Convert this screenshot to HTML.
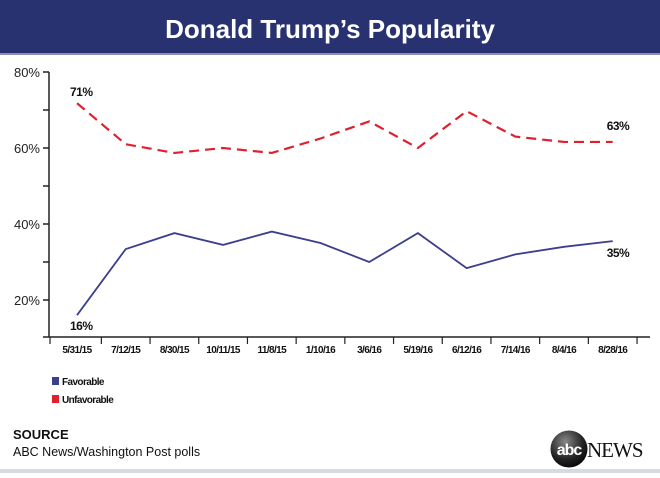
<!DOCTYPE html>
<html><head><meta charset="utf-8"><style>
body{margin:0;width:660px;height:473px;overflow:hidden;background:#fff;font-family:"Liberation Sans",sans-serif;}
</style></head><body>
<svg width="660" height="473" xmlns="http://www.w3.org/2000/svg">
<rect x="0" y="0" width="660" height="53" fill="#283270"/>
<rect x="0" y="53" width="660" height="2" fill="#8a8fb3"/>
<text x="330" y="38" text-anchor="middle" fill="#fff" font-size="26" font-weight="bold">Donald Trump’s Popularity</text>
<g id="axes"></g>
<g id="series"></g>
<rect x="52" y="377" width="7" height="8" fill="#3b3f8c"/>
<text x="62" y="385" font-size="10" font-weight="bold" letter-spacing="-0.6" fill="#111">Favorable</text>
<rect x="52" y="395" width="7" height="8" fill="#e0202e"/>
<text x="62" y="403" font-size="10" font-weight="bold" letter-spacing="-0.6" fill="#111">Unfavorable</text>
<text x="13" y="439" font-size="13" font-weight="bold" fill="#111">SOURCE</text>
<text x="13" y="456" font-size="12.5" fill="#111">ABC News/Washington Post polls</text>
<g>
<defs><radialGradient id="g" cx="0.4" cy="0.3" r="0.8"><stop offset="0" stop-color="#888"/><stop offset="0.6" stop-color="#222"/><stop offset="1" stop-color="#000"/></radialGradient></defs>
<circle cx="569" cy="449" r="18.5" fill="url(#g)"/>
<text x="569" y="455" text-anchor="middle" font-size="16" font-weight="bold" fill="#fff" letter-spacing="-1">abc</text>
<text x="587" y="457" font-family="Liberation Serif,serif" font-size="21" fill="#111" letter-spacing="-1">NEWS</text>
</g>
<rect x="0" y="469" width="660" height="4" fill="#d6dbe2"/>
</svg>
<script>
const categories=["5/31/15","7/12/15","8/30/15","10/11/15","11/8/15","1/10/16","3/6/16","5/19/16","6/12/16","7/14/16","8/4/16","8/28/16"];
const favorable=[16,33.4,37.6,34.5,38,35,30,37.6,28.4,32,34,35.5];
const unfavorable=[71.8,61,58.7,60,58.7,62.5,67,60,69.7,63,61.6,61.6];
const yTicks=[20,30,40,50,60,70,80];
const yLabels=["20%","","40%","","60%","","80%"];
const ns="http://www.w3.org/2000/svg";
const X=i=>77+i*48.7;
const Y=v=>300-(v-20)*3.8;
function mk(tag,attrs,parent){const e=document.createElementNS(ns,tag);for(const k in attrs)e.setAttribute(k,attrs[k]);parent.appendChild(e);return e;}
const ax=document.getElementById('axes'),se=document.getElementById('series');
let yAxis=mk('line',{x1:49,x2:49,y1:Y(80),y2:337,stroke:'#222','stroke-width':1.5},ax);


let xAxis=mk('line',{x1:43,x2:650,y1:337,y2:337,stroke:'#222','stroke-width':1.5},ax);


yTicks.forEach((t,i)=>{
 let l=mk('line',{x1:43,x2:49,y1:Y(t),y2:Y(t),stroke:'#222','stroke-width':1.5},ax);
 
 
 if(yLabels[i]){let tx=mk('text',{x:40,y:Y(t)+5,'text-anchor':'end','font-size':13,fill:'#222'},ax);tx.textContent=yLabels[i];
 
 }
});
categories.forEach((c,i)=>{
 let tk=mk('line',{x1:X(i)+24.35,x2:X(i)+24.35,y1:337,y2:344,stroke:'#222','stroke-width':1.2},ax);
 
 
 let tx=mk('text',{x:X(i),y:353,'text-anchor':'middle','font-size':10,'font-weight':'bold','letter-spacing':'-0.6',fill:'#111'},ax);
 tx.textContent=c;
 
 
});
let first=mk('line',{x1:X(0)-27,x2:X(0)-27,y1:337,y2:344,stroke:'#222','stroke-width':1.2},ax);


const pts=a=>a.map((v,i)=>X(i)+','+Y(v)).join(' ');
let pu=mk('polyline',{points:pts(unfavorable),fill:'none',stroke:'#e0202e','stroke-width':2.2,'stroke-dasharray':'10,6'},se);


let pf=mk('polyline',{points:pts(favorable),fill:'none',stroke:'#3b3f8c','stroke-width':1.8},se);


const lab=(txt,x,y,n)=>{let t=mk('text',{x:x,y:y,'font-size':12,'font-weight':'bold','letter-spacing':'-0.5',fill:'#111'},se);t.textContent=txt;
 
 };
const last=categories.length-1;
lab(Math.round(unfavorable[0])-1+'%',X(0)-7,Y(unfavorable[0])-7,'label-unfavorable-first');
lab(Math.round(favorable[0])+'%',X(0)-7,Y(favorable[0])+15,'label-favorable-first');
lab('63%',X(last)-6,Y(unfavorable[last])-12,'label-unfavorable-last');
lab(Math.round(favorable[last]-0.5)+'%',X(last)-6,Y(favorable[last])+16,'label-favorable-last');
</script>
</body></html>
